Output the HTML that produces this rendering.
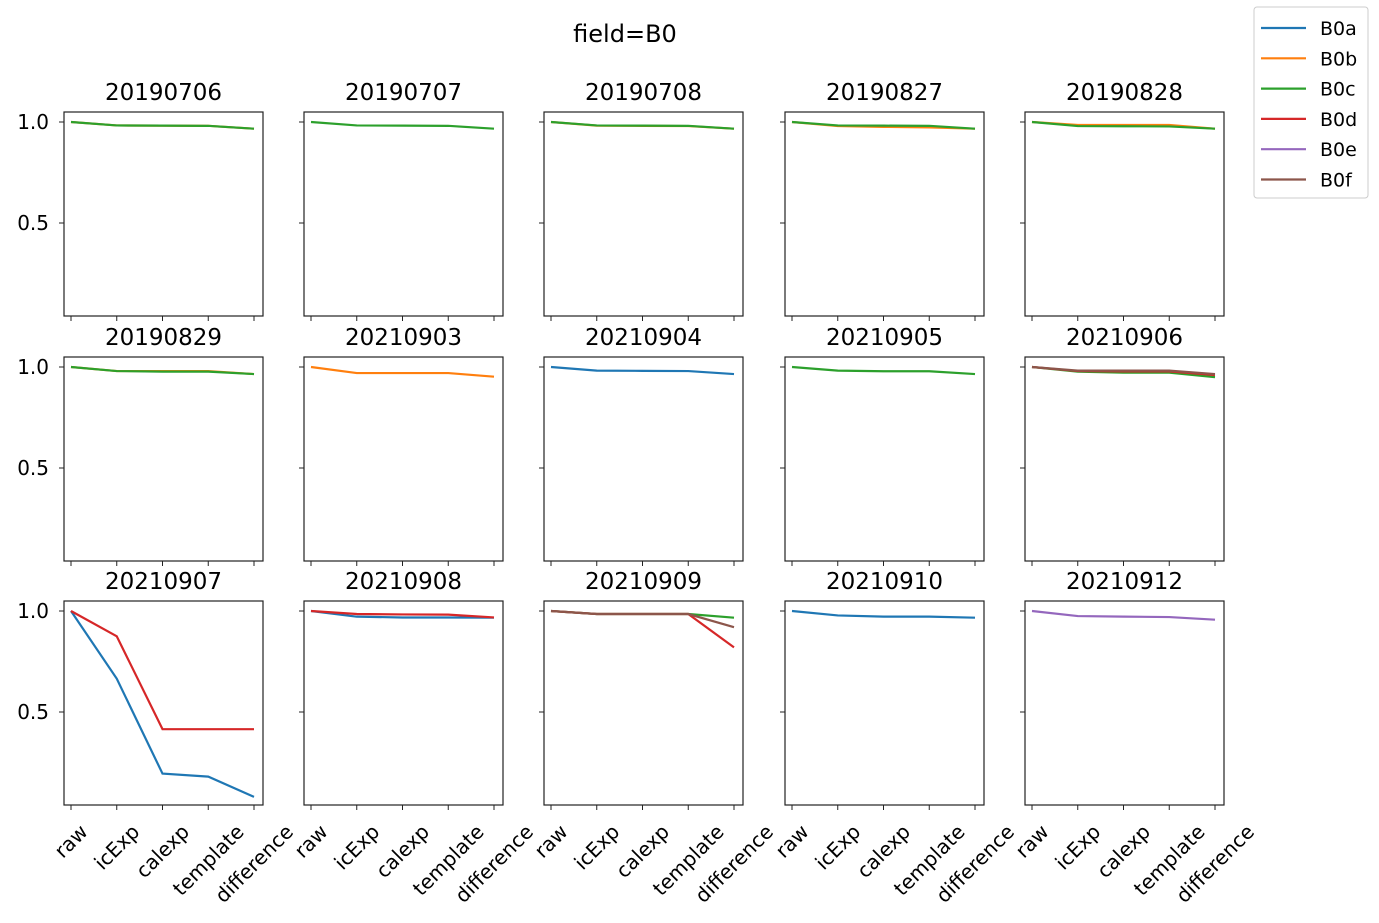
<!DOCTYPE html>
<html><head><meta charset="utf-8"><style>body{margin:0;background:#fff}svg{display:block}</style></head>
<body>
<svg id="s" width="1379" height="923" xmlns="http://www.w3.org/2000/svg" font-family="'DejaVu Sans','Liberation Sans',sans-serif">
<text x="625" y="42" font-size="24" text-anchor="middle" fill="#000">field=B0</text>
</svg>
<script>
const C={a:'#1f77b4',b:'#ff7f0e',c:'#2ca02c',d:'#d62728',e:'#9467bd',f:'#8c564b'};
const colX=[64,304,544,785,1025], rowY=[112,357,601], W=199, H=204;
const panels=[
["20190706",[['b',[1,.983,.982,.981,.967]],['c',[1,.983,.982,.981,.967]]]],
["20190707",[['c',[1,.983,.982,.981,.967]]]],
["20190708",[['b',[1,.982,.981,.98,.967]],['c',[1,.983,.982,.981,.967]]]],
["20190827",[['b',[1,.98,.976,.973,.967]],['c',[1,.983,.982,.981,.967]]]],
["20190828",[['b',[1,.985,.985,.985,.967]],['c',[1,.98,.979,.978,.967]]]],
["20190829",[['b',[1,.98,.98,.98,.965]],['c',[1,.98,.977,.977,.965]]]],
["20210903",[['b',[1,.97,.97,.97,.952]]]],
["20210904",[['a',[1,.982,.981,.98,.965]]]],
["20210905",[['c',[1,.982,.979,.979,.965]]]],
["20210906",[['c',[1,.977,.972,.972,.95]],['d',[1,.98,.978,.978,.96]],['f',[1,.982,.982,.982,.965]]]],
["20210907",[['a',[1,.665,.195,.18,.08]],['d',[1,.875,.415,.415,.415]]]],
["20210908",[['a',[1,.972,.968,.968,.967]],['d',[1,.985,.983,.982,.968]]]],
["20210909",[['c',[1,.985,.985,.985,.967]],['d',[1,.985,.985,.985,.82]],['f',[1,.985,.985,.985,.92]]]],
["20210910",[['a',[1,.978,.972,.972,.967]]]],
["20210912",[['e',[1,.975,.972,.97,.957]]]]];
const labs=["raw","icExp","calexp","template","difference"];
const svg=document.getElementById('s');
let h='';
const rot=[];
panels.forEach((p,i)=>{
 const r=Math.floor(i/5),c=i%5,x0=colX[c],y0=rowY[r];
 const yv=v=>y0+10+(1-v)*202, xv=k=>x0+7+k*45.75;
 h+=`<text x="${x0+W/2}" y="${y0-12}" font-size="23" text-anchor="middle">${p[0]}</text>`;
 p[1].forEach(([k,d])=>{h+=`<polyline fill="none" stroke="${C[k]}" stroke-width="2.2" points="${d.map((v,j)=>xv(j)+','+yv(v)).join(' ')}"/>`;});
 h+=`<rect x="${x0}" y="${y0}" width="${W}" height="${H}" fill="none" stroke="#222" stroke-width="1.2"/>`;
 [1,0.5].forEach(v=>{const y=yv(v);h+=`<line x1="${x0-5}" x2="${x0}" y1="${y}" y2="${y}" stroke="#222"/>`;
  if(c==0)h+=`<text x="${x0-15}" y="${y+7}" font-size="20" text-anchor="end">${v.toFixed(1)}</text>`;});
 for(let j=0;j<5;j++){const x=xv(j);h+=`<line x1="${x}" x2="${x}" y1="${y0+H}" y2="${y0+H+5}" stroke="#222"/>`;
  if(r==2)rot.push([x,y0+H+16,labs[j]]);}
});
h+=`<rect x="1254" y="7" width="114" height="191" rx="3" fill="#fff" stroke="#ccc"/>`;
['a','b','c','d','e','f'].forEach((k,j)=>{const y=28+j*30.3;
 h+=`<line x1="1261" x2="1306" y1="${y}" y2="${y}" stroke="${C[k]}" stroke-width="2.2"/><text x="1320" y="${y+7}" font-size="19">B0${k}</text>`;});
svg.insertAdjacentHTML('beforeend',h);
const NS='http://www.w3.org/2000/svg';
rot.forEach(([x,top,s])=>{
 const t=document.createElementNS(NS,'text');
 t.setAttribute('font-size','20');t.setAttribute('text-anchor','middle');
 t.textContent=s;svg.appendChild(t);
 const L=t.getComputedTextLength()||s.length*11;
 const cy=top+(L+20)*0.3536;
 t.setAttribute('x',0);t.setAttribute('y',7);
 t.setAttribute('transform',`translate(${x},${cy}) rotate(-45)`);
});
</script>
</body></html>
